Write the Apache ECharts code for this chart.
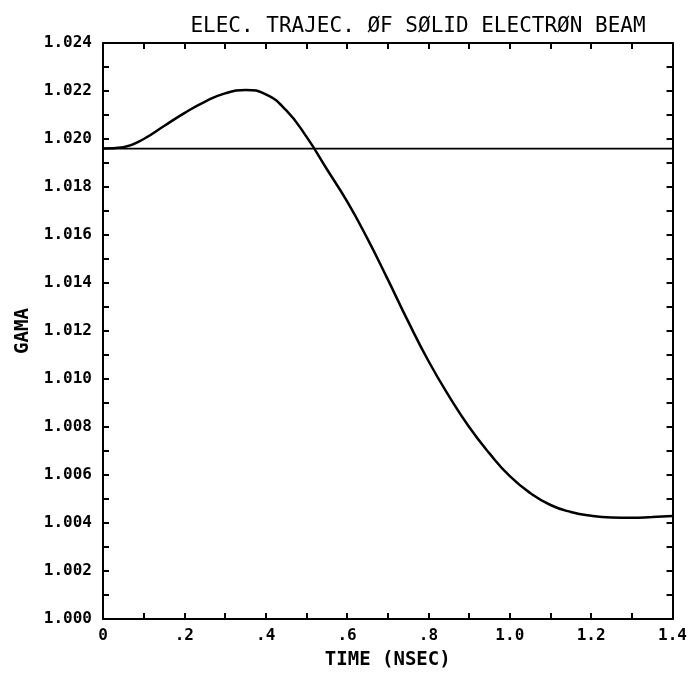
<!DOCTYPE html>
<html>
<head>
<meta charset="utf-8">
<script src="https://cdn.jsdelivr.net/npm/echarts@6/dist/echarts.min.js"></script>
<style>
html,body{margin:0;padding:0;background:#fff;}
#chart{width:690px;height:675px;}
</style>
</head>
<body>
<div id="chart"></div>
<script>
// ---- data ----
var timeNs = [0, 0.05, 0.1, 0.15, 0.2, 0.25, 0.3, 0.35, 0.4, 0.45, 0.5, 0.55, 0.6, 0.65, 0.7, 0.75, 0.8, 0.85, 0.9, 0.95, 1.0, 1.05, 1.1, 1.15, 1.2, 1.25, 1.3, 1.35, 1.4];
var gama = [1.01960, 1.01966, 1.02000, 1.02054, 1.02108, 1.02155, 1.02190, 1.02204, 1.02186, 1.02120, 1.02010, 1.01875, 1.01740, 1.01585, 1.01415, 1.01240, 1.01075, 1.00930, 1.00800, 1.00690, 1.00595, 1.00525, 1.00475, 1.00446, 1.00430, 1.00423, 1.00422, 1.00425, 1.00429];
var refTime = [0, 1.4];
var refGama = [1.0196, 1.0196];
var xTickLabels = ["0", ".2", ".4", ".6", ".8", "1.0", "1.2", "1.4"];
var yTickLabels = ["1.000", "1.002", "1.004", "1.006", "1.008", "1.010", "1.012", "1.014", "1.016", "1.018", "1.020", "1.022", "1.024"];
var titleText = "ELEC. TRAJEC. \u00D8F S\u00D8LID ELECTR\u00D8N BEAM";
var xName = "TIME (NSEC)";
var yName = "GAMA";

function zip(a, b) { return a.map(function (v, i) { return [v, b[i]]; }); }

var FONT = "DejaVu Sans Mono";
var axisLineStyle = { color: '#000', width: 2 };
var tickStyle = { show: true, inside: true, length: 6, lineStyle: { color: '#000', width: 2 } };

function xLabel(v) {
  var k = Math.round(v * 10);
  if (k % 2 !== 0) return '';
  return xTickLabels[k / 2] || '';
}
function yLabel(v) {
  var k = Math.round((v - 1) * 1000);
  if (k % 2 !== 0) return '';
  return yTickLabels[k / 2] || '';
}

var chart = echarts.init(document.getElementById('chart'));
chart.setOption({
  backgroundColor: '#fff',
  animation: false,
  title: {
    text: titleText,
    left: 413, top: 11, textAlign: 'center',
    textStyle: { fontFamily: FONT, fontSize: 21, fontWeight: 'normal', color: '#000' }
  },
  grid: { left: 103, right: 12, top: 43, bottom: 55 },
  xAxis: [{
    type: 'value', min: 0, max: 1.4, interval: 0.1,
    axisLine: { onZero: false, lineStyle: axisLineStyle },
    axisTick: tickStyle,
    splitLine: { show: false },
    axisLabel: { formatter: xLabel, margin: 9, color: '#000', fontFamily: FONT, fontWeight: 'bold', fontSize: 16 },
    name: xName, nameLocation: 'middle', nameGap: 32,
    nameTextStyle: { fontFamily: FONT, fontSize: 19, fontWeight: 'bold', color: '#000' }
  }, {
    type: 'value', min: 0, max: 1.4, interval: 0.1, position: 'top',
    axisLine: { onZero: false, lineStyle: axisLineStyle },
    axisTick: tickStyle,
    splitLine: { show: false },
    axisLabel: { show: false }
  }],
  yAxis: [{
    type: 'value', min: 1.000, max: 1.024, interval: 0.001,
    axisLine: { onZero: false, lineStyle: axisLineStyle },
    axisTick: tickStyle,
    splitLine: { show: false },
    axisLabel: { formatter: yLabel, margin: 11, color: '#000', fontFamily: FONT, fontWeight: 'bold', fontSize: 16 },
    name: yName, nameLocation: 'middle', nameGap: 68, nameRotate: 90,
    nameTextStyle: { fontFamily: FONT, fontSize: 19, fontWeight: 'bold', color: '#000' }
  }, {
    type: 'value', min: 1.000, max: 1.024, interval: 0.001, position: 'right',
    axisLine: { onZero: false, lineStyle: axisLineStyle },
    axisTick: tickStyle,
    splitLine: { show: false },
    axisLabel: { show: false }
  }],
  series: [{
    type: 'line', data: zip(timeNs, gama), smooth: true, symbol: 'none',
    lineStyle: { color: '#000', width: 2.5 }
  }, {
    type: 'line', data: zip(refTime, refGama), symbol: 'none',
    lineStyle: { color: '#000', width: 1.8 }
  }]
});
</script>
</body>
</html>
